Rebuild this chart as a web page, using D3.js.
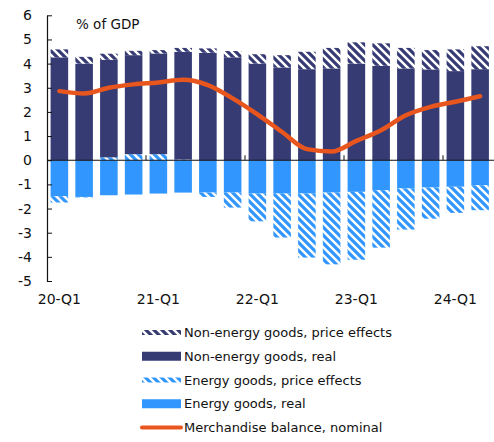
<!DOCTYPE html>
<html>
<head>
<meta charset="utf-8">
<script src="https://cdn.jsdelivr.net/npm/d3@7"></script>
<style>
  html, body { margin: 0; padding: 0; background: #fff; }
  svg { display: block; font-family: "DejaVu Sans", Verdana, sans-serif; }
</style>
</head>
<body>
<svg id="chart" width="494" height="442"></svg>
<script>
const quarters = ["20-Q1","20-Q2","20-Q3","20-Q4","21-Q1","21-Q2","21-Q3","21-Q4",
                  "22-Q1","22-Q2","22-Q3","22-Q4","23-Q1","23-Q2","23-Q3","23-Q4",
                  "24-Q1","24-Q2"];
const energyReal = [-1.49,-1.52,-1.45,-1.42,-1.38,-1.34,-1.34,-1.34,-1.38,-1.38,-1.38,-1.34,-1.31,-1.24,-1.17,-1.13,-1.10,-1.04];
const energyPrice = [-0.26,-0.02,0.12,0.25,0.25,0.03,-0.18,-0.62,-1.15,-1.82,-2.65,-2.97,-2.81,-2.38,-1.70,-1.29,-1.08,-1.03];
const nonEnergyReal = [4.26,4.00,4.04,4.10,4.17,4.46,4.45,4.26,4.00,3.84,3.77,3.80,4.00,3.91,3.80,3.76,3.69,3.77];
const nonEnergyPrice = [0.33,0.28,0.25,0.18,0.14,0.16,0.18,0.26,0.39,0.51,0.72,0.85,0.88,0.93,0.85,0.80,0.90,0.95];
const balance = [2.86,2.76,3.00,3.14,3.22,3.33,3.11,2.56,1.90,1.17,0.46,0.36,0.80,1.24,1.86,2.21,2.42,2.65];
const yTicks = [-5,-4,-3,-2,-1,0,1,2,3,4,5,6];
const xLabelTicks = ["20-Q1","21-Q1","22-Q1","23-Q1","24-Q1"];
const seriesNames = {
  nonEnergyPrice: "Non-energy goods, price effects",
  nonEnergyReal: "Non-energy goods, real",
  energyPrice: "Energy goods, price effects",
  energyReal: "Energy goods, real",
  balance: "Merchandise balance, nominal"
};

const DARK = "#363b74", LIGHT = "#3197fe", ORANGE = "#e8561e";

const svg = d3.select("#chart");
const defs = svg.append("defs");
function hatch(id, color) {
  const p = defs.append("pattern").attr("id", id).attr("patternUnits", "userSpaceOnUse")
    .attr("width", 8).attr("height", 8);
  p.append("rect").attr("width", 8).attr("height", 8).attr("fill", "#fff");
  p.append("path").attr("d", "M-2,-2L10,10M-2,6L2,10M6,-2L10,2")
    .attr("stroke", color).attr("stroke-width", 3.2).attr("fill", "none");
}
hatch("hatchDark", DARK);
hatch("hatchLight", LIGHT);

const data = quarters.map((q, i) => ({
  q, energyReal: energyReal[i], energyPrice: energyPrice[i],
  nonEnergyReal: nonEnergyReal[i], nonEnergyPrice: nonEnergyPrice[i]
}));
const keys = ["energyReal","energyPrice","nonEnergyReal","nonEnergyPrice"];
const fills = {energyReal: LIGHT, energyPrice: "url(#hatchLight)", nonEnergyReal: DARK, nonEnergyPrice: "url(#hatchDark)"};
const stacked = d3.stack().keys(keys).offset(d3.stackOffsetDiverging)(data);

const x = d3.scaleBand().domain(quarters).range([47, 47 + 18 * 24.75])
  .paddingInner(0.29).paddingOuter(0.145);
const y = d3.scaleLinear().domain([-5, 6]).range([281, 15.3]);

// bars
svg.append("g").selectAll("g").data(stacked).join("g")
  .attr("fill", d => fills[d.key])
  .selectAll("rect").data(d => d).join("rect")
  .attr("x", d => x(d.data.q))
  .attr("width", x.bandwidth())
  .attr("y", d => y(Math.max(d[0], d[1])))
  .attr("height", d => Math.abs(y(d[0]) - y(d[1])));

// zero axis line
svg.append("line").attr("x1", 47).attr("x2", 494).attr("y1", y(0)).attr("y2", y(0))
  .attr("stroke", "#111").attr("stroke-width", 1.2);

// year boundary ticks on zero line
const gap = (x.step() - x.bandwidth()) / 2;
svg.append("g").selectAll("line").data(xLabelTicks.slice(1)).join("line")
  .attr("x1", d => x(d) - gap).attr("x2", d => x(d) - gap)
  .attr("y1", y(0)).attr("y2", y(0) - 5)
  .attr("stroke", "#111").attr("stroke-width", 1);

// y axis
const yAxis = svg.append("g").attr("transform", "translate(47,0)")
  .call(d3.axisLeft(y).tickValues(yTicks).tickFormat(d3.format("d"))
    .tickSizeInner(-5).tickSizeOuter(0).tickPadding(15));
yAxis.select(".domain").attr("stroke", "#111").attr("stroke-width", 1.2);
yAxis.selectAll(".tick line").attr("stroke", "#111");
yAxis.selectAll("text").attr("font-size", 14).attr("fill", "#111")
  .attr("font-family", "DejaVu Sans, sans-serif").text(d => d < 0 ? "-" + Math.abs(d) : d);

// x labels
const xAxis = svg.append("g").attr("transform", "translate(0,291)")
  .call(d3.axisBottom(x).tickValues(xLabelTicks).tickSize(0).tickPadding(3));
xAxis.select(".domain").remove();
xAxis.selectAll("text").attr("font-size", 14).attr("fill", "#111")
  .attr("font-family", "DejaVu Sans, sans-serif");

// line
const line = d3.line().x((d, i) => x(quarters[i]) + x.bandwidth() / 2).y(d => y(d))
  .curve(d3.curveMonotoneX);
svg.append("path").datum(balance).attr("d", line)
  .attr("fill", "none").attr("stroke", ORANGE).attr("stroke-width", 4.5)
  .attr("stroke-linecap", "round").attr("stroke-linejoin", "round");

// title
svg.append("text").attr("x", 76).attr("y", 29).attr("font-size", 13.5).attr("fill", "#111")
  .text("% of GDP");

// legend
const legendItems = [
  {key: "nonEnergyPrice", type: "hatch", fill: "url(#hatchDark)"},
  {key: "nonEnergyReal", type: "solid", fill: DARK},
  {key: "energyPrice", type: "hatch", fill: "url(#hatchLight)"},
  {key: "energyReal", type: "solid", fill: LIGHT},
  {key: "balance", type: "line", fill: ORANGE}
];
const lg = svg.append("g");
legendItems.forEach((it, i) => {
  const cy = 332.5 + i * 23.75;
  if (it.type === "line") {
    lg.append("line").attr("x1", 142).attr("x2", 181).attr("y1", cy).attr("y2", cy)
      .attr("stroke", ORANGE).attr("stroke-width", 4).attr("stroke-linecap", "round");
  } else if (it.type === "hatch") {
    lg.append("rect").attr("x", 142).attr("y", cy - 2.5).attr("width", 39).attr("height", 5)
      .attr("fill", it.fill);
  } else {
    lg.append("rect").attr("x", 142).attr("y", cy - 4.5).attr("width", 39).attr("height", 9)
      .attr("fill", it.fill);
  }
  lg.append("text").attr("x", 184).attr("y", cy).attr("dy", "0.35em")
    .attr("font-size", 13).attr("fill", "#111").text(seriesNames[it.key]);
});
</script>
</body>
</html>
